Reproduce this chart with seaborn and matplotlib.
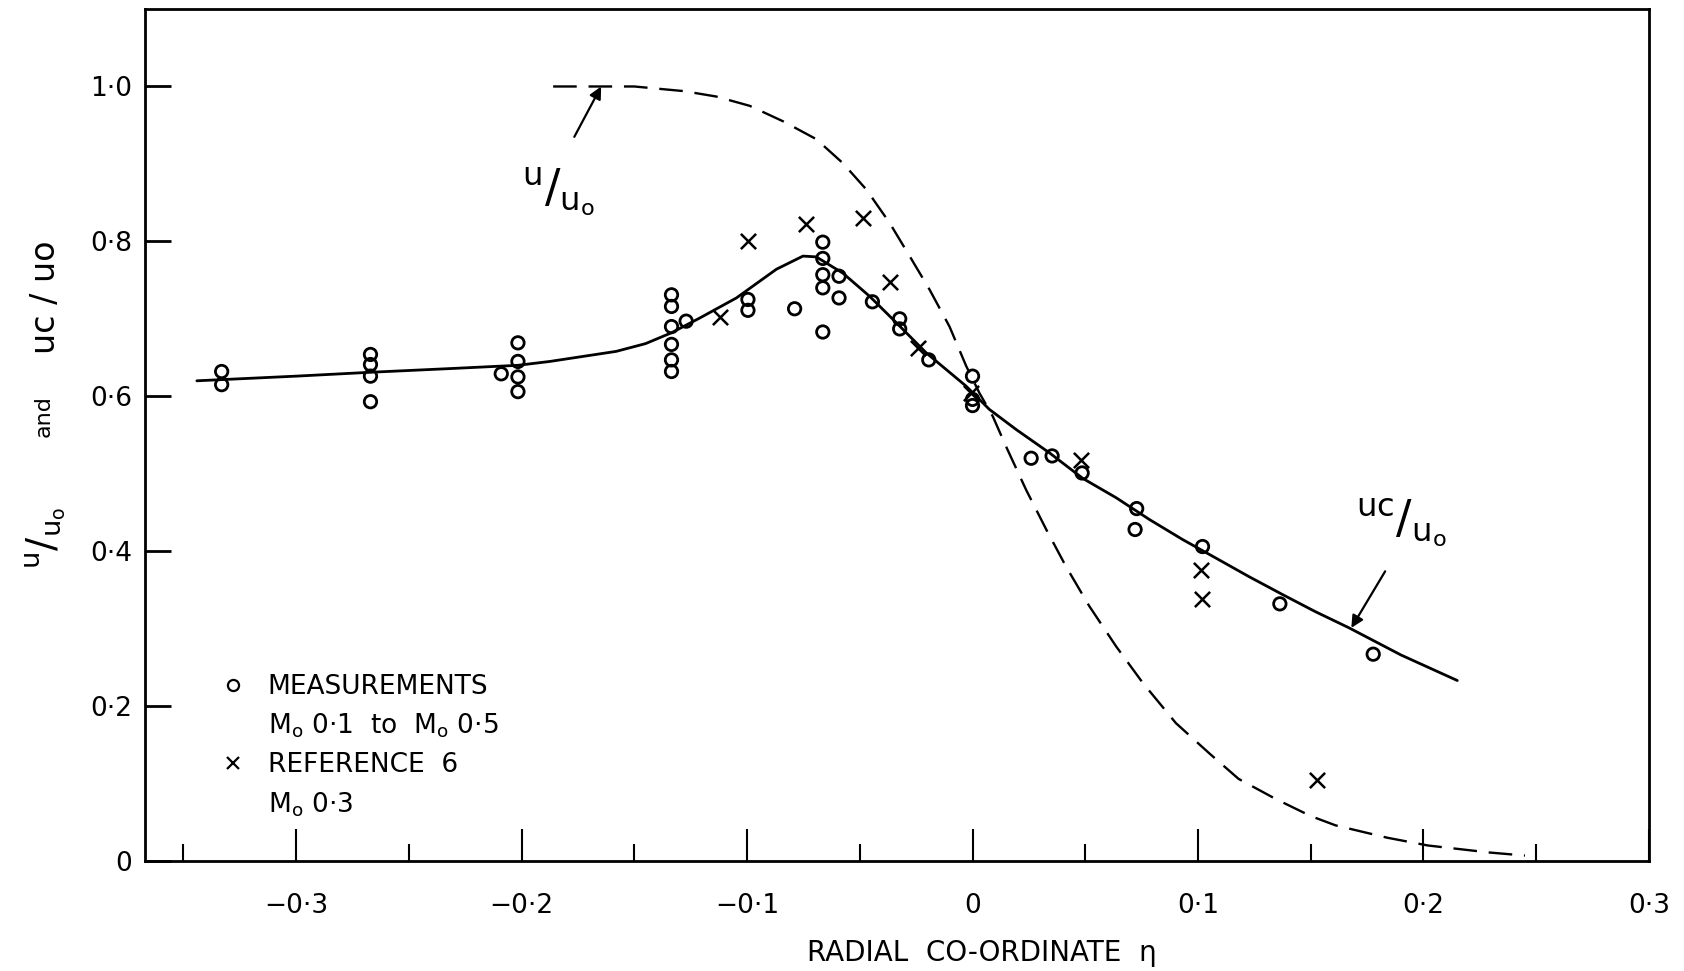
import numpy as np
import pandas as pd
import matplotlib
matplotlib.use("Agg")
import matplotlib.pyplot as plt
from matplotlib.lines import Line2D
from matplotlib.ticker import FixedLocator, FixedFormatter
import seaborn as sns

# ---------------- data ----------------
meas_eta = [-0.333, -0.333,
            -0.267, -0.267, -0.267, -0.267,
            -0.209, -0.2016, -0.2016, -0.2016, -0.2016,
            -0.1335, -0.1335, -0.1335, -0.1335, -0.1335, -0.1335, -0.127,
            -0.0996, -0.0996, -0.0789,
            -0.0664, -0.0664, -0.0664, -0.0664, -0.0664,
            -0.0592, -0.0592, -0.0444, -0.0323, -0.0323, -0.0194,
            0.0, 0.0, 0.0,
            0.026, 0.0353, 0.0486, 0.0728, 0.0721, 0.102, 0.1363, 0.1777]
meas_u = [0.632, 0.615,
          0.654, 0.641, 0.626, 0.593,
          0.629, 0.669, 0.645, 0.625, 0.606,
          0.731, 0.716, 0.690, 0.667, 0.647, 0.632, 0.697,
          0.725, 0.711, 0.713,
          0.799, 0.778, 0.757, 0.740, 0.683,
          0.755, 0.727, 0.722, 0.700, 0.687, 0.647,
          0.626, 0.596, 0.588,
          0.520, 0.523, 0.501, 0.455, 0.428, 0.406, 0.332, 0.267]

ref_eta = [-0.112, -0.0996, -0.0739, -0.0486, -0.0368, -0.0242, -0.0006,
           0.0482, 0.1013, 0.1016, 0.1528]
ref_u = [0.703, 0.801, 0.822, 0.830, 0.748, 0.662, 0.604,
         0.518, 0.376, 0.338, 0.105]

uc_eta = [-0.344, -0.30, -0.267, -0.23, -0.2016, -0.1874, -0.158, -0.145,
          -0.1335, -0.121, -0.1047, -0.087, -0.0752, -0.0693, -0.0575,
          -0.0456, -0.0338, -0.0205, -0.0028, 0.0075, 0.0194, 0.0341, 0.0489,
          0.0637, 0.0784, 0.0932, 0.108, 0.1227, 0.1375, 0.152, 0.167, 0.19,
          0.215]
uc_u = [0.620, 0.626, 0.631, 0.636, 0.640, 0.645, 0.658, 0.668,
        0.682, 0.701, 0.727, 0.764, 0.781, 0.780, 0.759,
        0.729, 0.695, 0.656, 0.613, 0.583, 0.557, 0.527, 0.494,
        0.469, 0.441, 0.415, 0.391, 0.367, 0.344, 0.322, 0.301, 0.266,
        0.233]

u_eta = [-0.186, -0.165, -0.150, -0.128, -0.1136, -0.0988, -0.084, -0.0693,
         -0.0575, -0.0471, -0.0368, -0.0279, -0.0191, -0.0102, -0.0028,
         0.0031, 0.009, 0.0149, 0.0238, 0.0327, 0.0415, 0.0518, 0.0637,
         0.0755, 0.0902, 0.105, 0.118, 0.1345, 0.15, 0.161, 0.184, 0.202,
         0.229, 0.245]
u_u = [1.000, 1.000, 1.000, 0.994, 0.987, 0.975, 0.955, 0.932,
       0.901, 0.867, 0.824, 0.781, 0.738, 0.690, 0.639,
       0.604, 0.574, 0.535, 0.479, 0.428, 0.380, 0.329, 0.277,
       0.230, 0.178, 0.139, 0.106, 0.080, 0.058, 0.046, 0.030, 0.020,
       0.011, 0.007]

xticks = [-0.3, -0.2, -0.1, 0.0, 0.1, 0.2, 0.3]
xtick_labels = ['\u22120\u00b73', '\u22120\u00b72', '\u22120\u00b71', '0',
                '0\u00b71', '0\u00b72', '0\u00b73']
xminor = [-0.35, -0.25, -0.15, -0.05, 0.05, 0.15, 0.25]
yticks = [0.0, 0.2, 0.4, 0.6, 0.8, 1.0]
ytick_labels = ['0', '0\u00b72', '0\u00b74', '0\u00b76', '0\u00b78', '1\u00b70']

# ---------------- style ----------------
sns.set_theme(style="white")
plt.rcParams['font.family'] = ['DejaVu Sans']
plt.rcParams['mathtext.default'] = 'regular'
for k in ['text.color', 'axes.labelcolor', 'xtick.color', 'ytick.color',
          'axes.edgecolor']:
    plt.rcParams[k] = 'black'

fig = plt.figure(figsize=(16.84, 9.71), dpi=100)
ax = fig.add_axes([0.0861, 0.1133, 0.8931, 0.8774])

meas_df = pd.DataFrame({'eta': meas_eta, 'u': meas_u})
ref_df = pd.DataFrame({'eta': ref_eta, 'u': ref_u})
uc_df = pd.DataFrame({'eta': uc_eta, 'u': uc_u})
u_df = pd.DataFrame({'eta': u_eta, 'u': u_u})

sns.lineplot(data=uc_df, x='eta', y='u', color='black', lw=2.0, sort=False,
             estimator=None, ax=ax, legend=False)
sns.lineplot(data=u_df, x='eta', y='u', color='black', lw=1.7, sort=False,
             estimator=None, ax=ax, legend=False, linestyle=(0, (10, 5)))
sns.scatterplot(data=meas_df, x='eta', y='u', marker='o', s=80,
                facecolor='none', edgecolor='black', linewidth=2.0, ax=ax,
                legend=False, zorder=3)
sns.scatterplot(data=ref_df, x='eta', y='u', marker='x', s=120,
                color='black', linewidth=1.8, ax=ax, legend=False, zorder=3)

ax.set_xlim(-0.367, 0.3)
ax.set_ylim(0, 1.10)

ax.xaxis.set_major_locator(FixedLocator(xticks))
ax.xaxis.set_major_formatter(FixedFormatter(xtick_labels))
ax.xaxis.set_minor_locator(FixedLocator(xminor))
ax.yaxis.set_major_locator(FixedLocator(yticks))
ax.yaxis.set_major_formatter(FixedFormatter(ytick_labels))

ax.tick_params(axis='x', which='major', direction='in', length=23, width=1.5,
               pad=23, labelsize=19, bottom=True, top=False)
ax.tick_params(axis='x', which='minor', direction='in', length=12, width=1.5,
               bottom=True, top=False)
ax.tick_params(axis='y', which='major', direction='in', length=19, width=2.0,
               pad=9, labelsize=19, left=True, right=False)
for sp in ax.spines.values():
    sp.set_linewidth(2.0)
    sp.set_color('black')

ax.set_xlabel('RADIAL  CO-ORDINATE  \u03b7', fontsize=20)
ax.xaxis.set_label_coords(0.5565, -0.091)
ax.set_ylabel('')

# y label pieces (rotated)
fig.text(0.027, 0.446, r'$^{u}/_{u_o}$', rotation=90, fontsize=28,
         ha='center', va='center')
fig.text(0.026, 0.571, 'and', rotation=90, fontsize=16, ha='center', va='center')
fig.text(0.027, 0.694, 'uc / uo', rotation=90, fontsize=24,
         ha='center', va='center')

# curve labels with arrows
ax.text(-0.1837, 0.865, r'$^{u}/_{u_o}$', fontsize=33, ha='center', va='center')
ax.annotate('', xy=(-0.1647, 1.0), xytext=(-0.1766, 0.935),
            arrowprops=dict(arrowstyle='-|>', color='black', lw=1.6,
                            mutation_scale=18, shrinkA=0, shrinkB=0))
ax.text(0.1904, 0.438, r'$^{uc}/_{u_o}$', fontsize=33, ha='center', va='center')
ax.annotate('', xy=(0.168, 0.301), xytext=(0.183, 0.374),
            arrowprops=dict(arrowstyle='-|>', color='black', lw=1.6,
                            mutation_scale=18, shrinkA=0, shrinkB=0))

# legend
h_meas = Line2D([], [], marker='o', ls='none', mfc='none', mec='black',
                mew=1.6, ms=8)
h_ref = Line2D([], [], marker='x', ls='none', color='black', mew=1.6, ms=8)
h_blank = Line2D([], [], ls='none')
ax.legend([h_meas, h_blank, h_ref, h_blank],
          ['MEASUREMENTS', 'M$_o$ 0\u00b71  to  M$_o$ 0\u00b75',
           'REFERENCE  6', 'M$_o$ 0\u00b73'],
          loc='upper left', bbox_to_anchor=(0.043, 0.232), frameon=False,
          fontsize=19, handlelength=1.0, handletextpad=0.8, labelspacing=0.45,
          borderaxespad=0)

fig.savefig('out.png', dpi=100, facecolor='white')
